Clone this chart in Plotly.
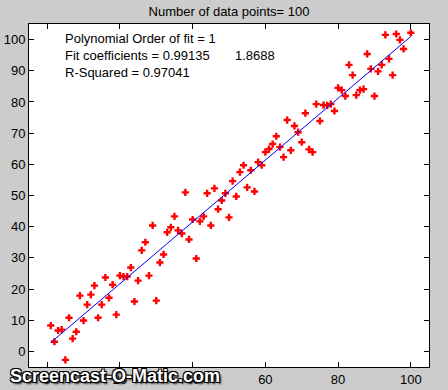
import numpy as np
import plotly.graph_objects as go

# data (x = sample index, y = value)
x_vals = [1, 2, 3, 4, 5, 6, 7, 8, 9, 10,
          11, 12, 13, 14, 15, 16, 17, 18, 19, 20,
          21, 22, 23, 24, 25, 26, 27, 28, 29, 30,
          31, 32, 33, 34, 35, 36, 37, 38, 39, 40,
          41, 42, 43, 44, 45, 46, 47, 48, 49, 50,
          51, 52, 53, 54, 55, 56, 57, 58, 59, 60,
          61, 62, 63, 64, 65, 66, 67, 68, 69, 70,
          71, 72, 73, 74, 75, 76, 77, 78, 79, 80,
          81, 82, 83, 84, 85, 86, 87, 88, 89, 90,
          91, 92, 93, 94, 95, 96, 97, 98, 100]
y_vals = [8.3, 3.1, 6.7, 7.0, -2.7, 10.8, 4.1, 6.3, 17.9, 9.9,
          15.0, 18.2, 21.1, 10.8, 15.0, 23.7, 17.2, 21.4, 11.8, 24.3,
          24.0, 24.0, 26.9, 16.0, 22.7, 32.4, 35.0, 24.3, 40.4, 16.3,
          28.5, 31.1, 38.2, 39.8, 43.3, 38.8, 37.8, 51.0, 35.9, 42.3,
          29.8, 41.7, 43.3, 50.7, 40.4, 52.3, 45.6, 48.4, 50.7, 43.0,
          54.6, 49.7, 57.5, 59.7, 52.6, 58.1, 51.3, 60.7, 59.7, 63.9,
          64.9, 66.5, 69.0, 65.5, 62.3, 74.2, 64.5, 72.3, 70.3, 67.1,
          76.4, 64.8, 63.9, 79.3, 73.9, 79.0, 78.9, 79.3, 77.1, 84.5,
          83.8, 81.9, 91.9, 88.6, 82.2, 83.8, 84.1, 95.4, 90.6, 81.9,
          89.8, 91.9, 101.5, 93.8, 88.6, 101.8, 99.9, 97.0, 102.2]

fit_coef = [0.99135, 1.8688]   # slope, intercept (shown in the chart)
r_squared = 0.97041
poly_order = 1
n_points = 100

x_ticks = [0, 20, 40, 60, 80, 100]
y_ticks = [0, 10, 20, 30, 40, 50, 60, 70, 80, 90, 100]

fit_x = [min(x_vals), max(x_vals)]
fit_y = list(np.polyval(fit_coef, fit_x))

FONT = "Liberation Sans, Arial, sans-serif"

fig = go.Figure()
fig.add_trace(go.Scatter(x=x_vals, y=y_vals, mode="markers",
                         marker=dict(symbol="cross", size=6, color="#ff0000",
                                     line=dict(width=0)),
                         showlegend=False, hoverinfo="x+y"))
fig.add_trace(go.Scatter(x=fit_x, y=fit_y, mode="lines",
                         line=dict(color="#0000ff", width=1),
                         showlegend=False))

nb = "\u00a0"
lines = [
    f"Polynomial Order of fit = {poly_order}",
    f"Fit coefficients = {fit_coef[0]:.5f}{nb*7}{fit_coef[1]:.4f}",
    f"R-Squared = {r_squared:.5f}",
]
for i, t in enumerate(lines):
    fig.add_annotation(x=4.3, y=100.3 - 5.35 * i, xref="x", yref="y", text=t,
                       showarrow=False, xanchor="left", yanchor="middle",
                       font=dict(family=FONT, size=13, color="#000000"))

fig.add_annotation(x=(8 - 29) / 400, y=(367 - 376) / 343, xref="paper", yref="paper",
                   xanchor="left", yanchor="middle", showarrow=False,
                   text="<b>Screencast-O-Matic.com</b>",
                   font=dict(family=FONT, size=18, color="#ffffff",
                             shadow="-1px -1px 0 #000, 1px -1px 0 #000, -1px 1px 0 #000, 1px 1px 0 #000, 2px 2px 2px #222"))

axis_common = dict(showline=True, linecolor="#000000", linewidth=1, mirror="ticks",
                   ticks="inside", ticklen=5, tickcolor="#000000", tickwidth=1,
                   showgrid=False, zeroline=False, automargin=False,
                   tickfont=dict(family=FONT, size=13, color="#000000"))

fig.update_layout(
    width=448, height=390,
    margin=dict(l=29, r=19, t=24, b=23),
    paper_bgcolor="#cccccc", plot_bgcolor="#ffffff",
    title=dict(text=f"Number of data points= {n_points}", x=0.5, xref="paper",
               y=1 - 11 / 390, yref="container", yanchor="middle", xanchor="center",
               font=dict(family=FONT, size=13, color="#000000")),
    xaxis=dict(range=[-5, 105], tickvals=x_ticks, **axis_common),
    yaxis=dict(range=[-5, 105], tickvals=y_ticks, **axis_common),
)

fig.write_html("out.html", config={"displayModeBar": False},
               post_script="document.body.style.margin='0';document.body.style.overflow='hidden';")
